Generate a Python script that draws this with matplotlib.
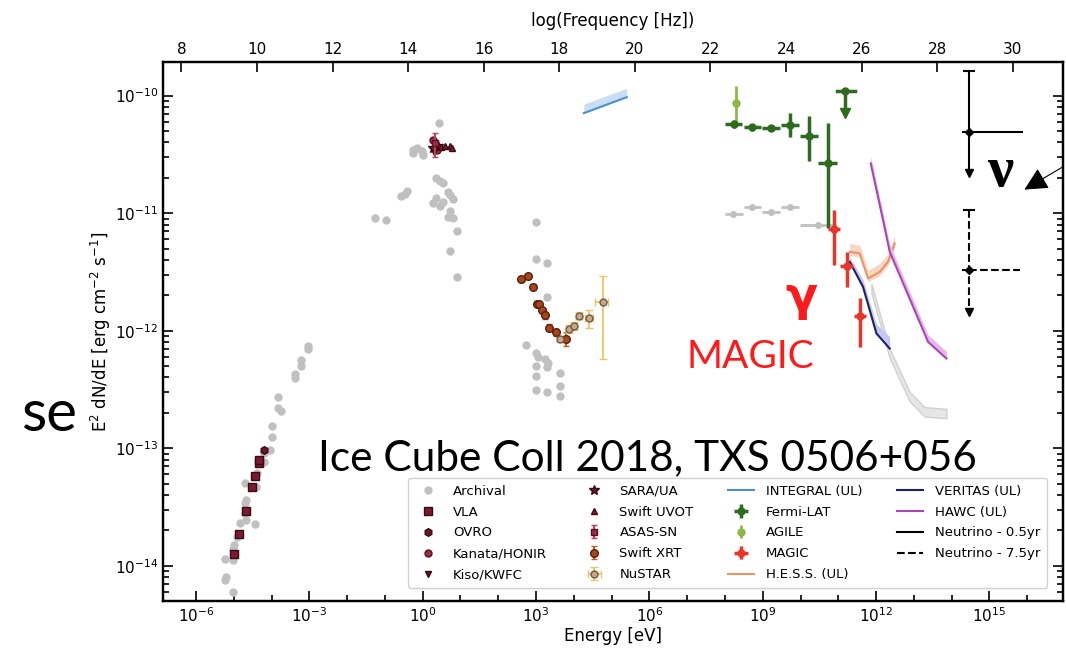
import matplotlib.pyplot as plt
import numpy as np
from matplotlib.ticker import FixedLocator, NullFormatter, LogLocator

# all values are log10(E [eV]) and log10(E^2 dN/dE [erg cm^-2 s^-1])
arch_logE = [-3.045, -3.045, -3.222, -3.222, -3.381, -3.381, -3.823, -3.823, -3.751, -3.997,
             -3.997, -4.042, -4.201, -4.201, -4.378, -4.704, -4.413, -4.685, -4.704, -4.704,
             -4.685, -4.836, -4.439, -4.923, -4.995, -5.029, -5.233, -5.029, -5.206, -5.233,
             -5.029,
             0.437, -0.251, -0.161, -0.029, -0.251, 0.013, 0.349, 0.455, 0.542, -0.426,
             -0.585, -0.471, 0.349, 0.262, 0.542, 0.455, 0.675, 0.720, 0.791, 0.720,
             0.675, 0.791, -1.265, -0.974, 0.897, 0.720, 0.897,
             2.995, 2.995, 3.294, 3.294, 2.730, 2.995, 3.056, 3.233, 3.320, 2.995,
             3.294, 3.630, 2.995, 3.630, 2.995, 3.294, 3.630]
arch_logF = [-12.129, -12.157, -12.251, -12.302, -12.370, -12.402, -12.563, -12.657, -12.683, -12.813,
             -12.904, -13.011, -13.043, -13.117, -13.215, -13.298, -13.329, -13.443, -13.468, -13.553,
             -13.613, -13.638, -13.649, -13.755, -13.826, -13.854, -13.945, -13.947, -14.095, -14.123,
             -14.223,
             -10.231, -10.464, -10.449, -10.470, -10.487, -10.506, -10.705, -10.725, -10.747, -10.813,
             -10.855, -10.838, -10.870, -10.912, -10.904, -10.940, -10.819, -10.847, -10.883, -10.980,
             -11.031, -11.037, -11.045, -11.060, -11.151, -11.323, -11.542,
             -11.074, -11.386, -11.428, -11.717, -12.123, -12.189, -12.223, -12.237, -12.279, -12.300,
             -12.308, -12.364, -12.385, -12.472, -12.506, -12.521, -12.555]

# archival Fermi points (grey, with energy bins)
afermi_logE = [8.214, 8.728, 9.230, 9.733, 10.463]
afermi_logF = [-11.003, -10.951, -10.991, -10.946, -11.100]
afermi_Elo = [7.995, 8.505, 8.992, 9.495, 9.997]
afermi_Ehi = [8.479, 8.966, 9.468, 9.952, 10.950]

vla_logE = [-4.987, -4.855, -4.677, -4.519, -4.439, -4.341, -4.341]
vla_logF = [-13.896, -13.734, -13.534, -13.334, -13.236, -13.130, -13.102]
ovro_logE = [-4.201]
ovro_logF = [-13.011]

kanata_logE = [0.270, 0.376]
kanata_logF = [-10.379, -10.464]
kiso_logE = [0.296]
kiso_logF = [-10.481]
sara_logE = [0.402, 0.270]
sara_logF = [-10.430, -10.447]
uvot_logE = [0.481, 0.587, 0.720, 0.772]
uvot_logF = [-10.438, -10.430, -10.430, -10.447]
asas_logE = [0.323]
asas_logF = [-10.404]
asas_Flo = [-10.523]
asas_Fhi = [-10.319]

xrt_logE = [2.598, 2.775, 2.907, 3.013, 3.074, 3.146, 3.233, 3.339, 3.516, 3.788]
xrt_logF = [-11.562, -11.536, -11.627, -11.769, -11.774, -11.826, -11.868, -11.973, -12.015, -12.072]
xrt_dF = [0.02, 0.02, 0.02, 0.02, 0.02, 0.02, 0.03, 0.03, 0.03, 0.06]

nustar_logE = [3.630, 3.860, 4.008, 4.140, 4.405, 4.759]
nustar_logF = [-12.075, -11.985, -11.962, -11.871, -11.888, -11.755]
nustar_Elo = [3.56, 3.80, 3.94, 4.07, 4.30, 4.556]
nustar_Ehi = [3.70, 3.93, 4.08, 4.21, 4.50, 4.899]
nustar_Flo = [-12.10, -12.02, -11.99, -11.90, -11.976, -12.245]
nustar_Fhi = [-12.05, -11.95, -11.93, -11.84, -11.826, -11.536]

integral_logE = [4.265, 5.402]
integral_logF = [-10.149, -10.013]
integral_hi = [-10.072, -9.936]

fermi_logE = [8.233, 8.728, 9.230, 9.714, 10.225, 10.728]
fermi_logF = [-10.243, -10.271, -10.279, -10.251, -10.345, -10.577]
fermi_Elo = [8.013, 8.505, 8.992, 9.495, 9.979, 10.463]
fermi_Ehi = [8.452, 8.966, 9.468, 9.952, 10.463, 10.966]
fermi_Flo = [-10.279, -10.300, -10.305, -10.351, -10.557, -11.130]
fermi_Fhi = [-10.209, -10.245, -10.250, -10.151, -10.172, -10.237]
fermi_ul_logE = [10.966, 11.188, 11.452]  # bin low, centre, bin high
fermi_ul_logF = [-9.959, -10.151]         # limit, arrow tip

agile_logE = [8.286]
agile_logF = [-10.061]
agile_Flo = [-10.237]
agile_Fhi = [-9.919]

magic_logE = [10.878, 11.230, 11.566]
magic_logF = [-11.136, -11.451, -11.877]
magic_Elo = [10.728, 11.056, 11.407]
magic_Ehi = [11.037, 11.389, 11.743]
magic_Flo = [-11.443, -11.632, -12.138]
magic_Fhi = [-10.974, -11.329, -11.726]

hess_logE = [11.302, 11.566, 11.786, 12.095, 12.315, 12.492]
hess_logF = [-11.329, -11.343, -11.556, -11.500, -11.414, -11.258]
veritas_logE = [11.302, 11.653, 12.008, 12.360]
veritas_logF = [-11.414, -11.627, -12.024, -12.152]
hawc_logE = [11.857, 12.183, 12.360, 13.373, 13.860]
hawc_logF = [-10.577, -11.060, -11.329, -12.095, -12.237]
grey_logE = [11.876, 12.360, 12.889, 13.286, 13.860]
grey_logF = [-11.641, -12.194, -12.563, -12.691, -12.705]

# neutrino: 0.5 yr (solid) and 7.5 yr (dashed)
nu_logE = [14.458, 14.458]
nu_Elo = [14.29, 14.29]
nu_Ehi = [15.87, 15.80]
nu_logF = [-10.308, -11.485]
nu_Ftop = [-9.791, -10.969]
nu_Fbot = [-10.66, -11.84]


def p(a):
    return 10.0 ** np.asarray(a, dtype=float)


def aerr(mid, lo, hi):
    return [p(mid) - p(lo), p(hi) - p(mid)]


fig = plt.figure(figsize=(10.66, 6.5), dpi=100)
ax = fig.add_axes([0.153, 0.0754, 0.844, 0.829])
ax.set_xscale('log')
ax.set_yscale('log')

handles = []

# archival
h, = ax.plot(p(arch_logE), p(arch_logF), 'o', color='#c0c0c0', ms=5, ls='none', label='Archival', zorder=2)
handles.append(h)
ax.errorbar(p(afermi_logE), p(afermi_logF), xerr=aerr(afermi_logE, afermi_Elo, afermi_Ehi),
            fmt='o', color='#c0c0c0', ms=4, elinewidth=2, zorder=2)
ax.fill_between(p(grey_logE), p(np.array(grey_logF) - 0.04), p(np.array(grey_logF) + 0.04),
                color='#e6e6e6', edgecolor='#d0d0d0', lw=1, zorder=2)

h, = ax.plot(p(vla_logE), p(vla_logF), 's', color='#7d1a30', mec='#3a0a12', ms=5.5, ls='none', label='VLA', zorder=4)
handles.append(h)
h, = ax.plot(p(ovro_logE), p(ovro_logF), 'h', color='#6e1428', mec='#3a0a12', ms=5.5, ls='none', label='OVRO', zorder=4)
handles.append(h)
h, = ax.plot(p(kanata_logE), p(kanata_logF), 'o', color='#a32a40', mec='#5a0f1c', ms=5, ls='none',
             label='Kanata/HONIR', zorder=4)
handles.append(h)
h, = ax.plot(p(kiso_logE), p(kiso_logF), 'v', color='#701020', mec='#3a0a12', ms=5, ls='none',
             label='Kiso/KWFC', zorder=4)
handles.append(h)
h, = ax.plot(p(sara_logE), p(sara_logF), '*', color='#6b1a2a', mec='#3a0a12', ms=7, ls='none',
             label='SARA/UA', zorder=4)
handles.append(h)
h, = ax.plot(p(uvot_logE), p(uvot_logF), '^', color='#8b1a2e', mec='#3a0a12', ms=5, ls='none',
             label='Swift UVOT', zorder=4)
handles.append(h)
h = ax.errorbar(p(asas_logE), p(asas_logF), yerr=aerr(asas_logF, asas_Flo, asas_Fhi),
                fmt='s', color='#9e2a44', ecolor='#c04060', mec='#5a0f1c', ms=5, capsize=2, label='ASAS-SN',
                zorder=4)
handles.append(h)
h = ax.errorbar(p(xrt_logE), p(xrt_logF),
                yerr=[p(xrt_logF) - p(np.array(xrt_logF) - xrt_dF), p(np.array(xrt_logF) + xrt_dF) - p(xrt_logF)],
                fmt='o', color='#a8461c', ecolor='#c0602a', mec='#5a2010', ms=5.5, capsize=2,
                label='Swift XRT', zorder=4)
handles.append(h)
h = ax.errorbar(p(nustar_logE), p(nustar_logF), xerr=aerr(nustar_logE, nustar_Elo, nustar_Ehi),
                yerr=aerr(nustar_logF, nustar_Flo, nustar_Fhi), fmt='o', color='#c9a688', ecolor='#e8c660',
                mec='#6a5a50', ms=5, capsize=3, elinewidth=1.3, label='NuSTAR', zorder=4)
handles.append(h)

# INTEGRAL
ax.fill_between(p(integral_logE), p(integral_logF), p(integral_hi), color='#c8def2', lw=0, zorder=2)
h, = ax.plot(p(integral_logE), p(integral_logF), color='#4a8fd4', lw=1.5, label='INTEGRAL (UL)')
handles.append(h)

# Fermi-LAT
h = ax.errorbar(p(fermi_logE), p(fermi_logF), xerr=aerr(fermi_logE, fermi_Elo, fermi_Ehi),
                yerr=aerr(fermi_logF, fermi_Flo, fermi_Fhi), fmt='o', color='#2d6b1f', ms=5,
                elinewidth=2.5, label='Fermi-LAT', zorder=5)
handles.append(h)
ax.plot(p([fermi_ul_logE[0], fermi_ul_logE[2]]), p([fermi_ul_logF[0]] * 2), color='#2d6b1f', lw=2.5, zorder=5)
ax.plot(p([fermi_ul_logE[1]] * 2), p(fermi_ul_logF), color='#2d6b1f', lw=2.5, zorder=5)
ax.plot(p([fermi_ul_logE[1]]), p([fermi_ul_logF[1]]), 'v', color='#2d6b1f', ms=7, zorder=5)
ax.plot(p([fermi_ul_logE[1]]), p([fermi_ul_logF[0]]), 'o', color='#2d6b1f', ms=5, zorder=5)

h = ax.errorbar(p(agile_logE), p(agile_logF), yerr=aerr(agile_logF, agile_Flo, agile_Fhi), fmt='o',
                color='#8db845', ms=5, elinewidth=2, label='AGILE', zorder=5)
handles.append(h)

h = ax.errorbar(p(magic_logE), p(magic_logF), xerr=aerr(magic_logE, magic_Elo, magic_Ehi),
                yerr=aerr(magic_logF, magic_Flo, magic_Fhi), fmt='o', color='#e8352a', ms=5,
                elinewidth=2.5, label='MAGIC', zorder=6)
handles.append(h)

ax.fill_between(p(hess_logE), p(np.array(hess_logF) - 0.03), p(np.array(hess_logF) + 0.07),
                color='#f7d6c2', lw=0, zorder=3)
h, = ax.plot(p(hess_logE), p(hess_logF), color='#e8956a', lw=1.5, label='H.E.S.S. (UL)', zorder=3)
handles.append(h)

ax.fill_between(p(veritas_logE), p(veritas_logF), p(np.array(veritas_logF) + [0.04, 0.06, 0.08, 0.10]),
                color='#c4c8ec', lw=0, zorder=3)
h, = ax.plot(p(veritas_logE), p(veritas_logF), color='#1e1e6e', lw=1.5, label='VERITAS (UL)', zorder=3)
handles.append(h)

ax.fill_between(p(hawc_logE), p(hawc_logF), p(np.array(hawc_logF) + 0.06), color='#eab4ea', lw=0, zorder=3)
h, = ax.plot(p(hawc_logE), p(hawc_logF), color='#a846b8', lw=1.5, label='HAWC (UL)', zorder=3)
handles.append(h)

# neutrinos
for i, ls in enumerate(['-', '--']):
    lbl = 'Neutrino - 0.5yr' if i == 0 else 'Neutrino - 7.5yr'
    h, = ax.plot(p([nu_logE[i], nu_Ehi[i]]), p([nu_logF[i]] * 2), color='k', ls=ls, lw=1.5, label=lbl, zorder=6)
    handles.append(h)
    ax.plot(p([nu_Elo[i], nu_logE[i]]), p([nu_logF[i]] * 2), color='k', ls='-', lw=1.5, zorder=6)
    ax.plot(p([nu_logE[i]] * 2), p([nu_Ftop[i], nu_Fbot[i]]), color='k', ls=ls, lw=1.5, zorder=6)
    ax.plot(p([nu_logE[i]]), p([nu_Ftop[i]]), marker='_', color='k', ms=9, mew=1.5, zorder=6)
    ax.plot(p([nu_logE[i]]), p([nu_Fbot[i]]), marker='v', color='k', ms=6, zorder=6)
    ax.plot(p([nu_logE[i]]), p([nu_logF[i]]), marker='D', color='k', ms=4, zorder=6)

ax.set_xlim(10 ** -6.87, 10 ** 16.94)
ax.set_ylim(10 ** -14.30, 10 ** -9.715)

ax.xaxis.set_major_locator(FixedLocator([10.0 ** k for k in range(-6, 16, 3)]))
ax.xaxis.set_minor_locator(FixedLocator([10.0 ** k for k in range(-6, 17) if k % 3 != 0]))
ax.xaxis.set_minor_formatter(NullFormatter())
ax.yaxis.set_minor_locator(LogLocator(base=10, subs=np.arange(2, 10)))
ax.yaxis.set_minor_formatter(NullFormatter())
ax.tick_params(which='both', direction='in', right=True, top=False, width=1.2, labelsize=11)
ax.tick_params(which='major', length=7)
ax.tick_params(which='minor', length=4)
ax.set_xlabel('Energy [eV]', fontsize=12, labelpad=2)
ax.set_ylabel('E$^2$ dN/dE [erg cm$^{-2}$ s$^{-1}$]', fontsize=12, labelpad=1)
for s in ax.spines.values():
    s.set_linewidth(1.6)

ax2 = ax.twiny()
ax2.set_xlim(-6.87 + 14.384, 16.94 + 14.384)
ax2.set_xticks(range(8, 31, 2))
ax2.tick_params(direction='in', length=7, width=1.2, labelsize=11)
ax2.set_xlabel('log(Frequency [Hz])', fontsize=12, labelpad=12)
for s in ax2.spines.values():
    s.set_linewidth(1.6)

leg = ax.legend(handles=handles, ncol=4, loc='lower right', bbox_to_anchor=(0.99, 0.012), fontsize=9.5,
                labelspacing=0.6, columnspacing=2.6, handlelength=2.0, handletextpad=0.9,
                borderpad=0.5, framealpha=0.9)
leg.set_zorder(7)

# slide annotations
fig.text(0.298, 0.295, 'Ice Cube Coll 2018, TXS 0506+056', fontsize=30.5, family='Lato', va='center',
         ha='left', zorder=10)
fig.text(0.752, 0.543, 'γ', fontsize=34, color='#ff1a1a', fontweight='bold', ha='center', va='center')
fig.text(0.7036, 0.451, 'MAGIC', fontsize=28, color='#ff1a1a', family='Lato', ha='center', va='center')
fig.text(0.938, 0.735, 'ν', fontsize=42, color='k', family='Liberation Serif', fontweight='bold',
         ha='center', va='center')
fig.text(0.046, 0.362, 'se', fontsize=42, color='k', family='Lato', ha='center', va='center')
ax.annotate('', xy=(1022 / 1066, 1 - 191 / 650), xycoords='figure fraction',
            xytext=(1066 / 1066, 1 - 165 / 650), textcoords='figure fraction',
            arrowprops=dict(arrowstyle='-|>', color='k', lw=0.8, mutation_scale=36), annotation_clip=False)

fig.savefig('out.png', dpi=100)
